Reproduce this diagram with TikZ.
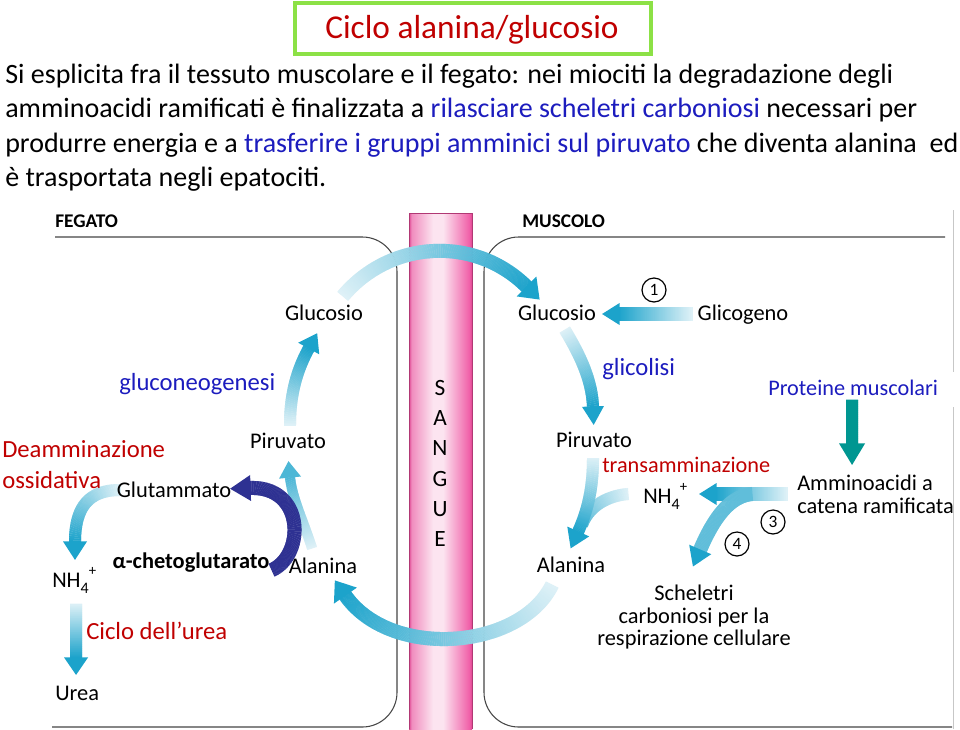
\documentclass[tikz,border=0pt]{standalone}
\usepackage{fontspec}
\setmainfont{Carlito}
\usetikzlibrary{decorations.markings}
\definecolor{ablue}{RGB}{28,163,203}
\definecolor{apale}{RGB}{222,241,247}
\definecolor{navyarc}{RGB}{46,49,146}
\definecolor{tealarr}{RGB}{0,150,145}
\definecolor{redtxt}{RGB}{192,0,0}
\definecolor{bluetxt}{RGB}{28,28,190}
\definecolor{titlegreen}{RGB}{140,225,70}
\definecolor{boxline}{RGB}{70,70,70}
\definecolor{vpinkA}{RGB}{222,70,145}
\definecolor{vpinkB}{RGB}{240,140,190}
\definecolor{vlight}{RGB}{252,228,240}
\definecolor{vpinkC}{RGB}{240,95,168}
\pgfdeclarehorizontalshading{vessel}{100bp}{color(0bp)=(vpinkA); color(25bp)=(vpinkA); color(27bp)=(vpinkB); color(44bp)=(vlight); color(52bp)=(vlight); color(73bp)=(vpinkC); color(75bp)=(vpinkA); color(100bp)=(vpinkA)}
\tikzset{
  garrow/.style n args={5}{
    postaction={decorate,decoration={markings,
      mark=between positions 0 and 1 step 0.5pt with {%
        \pgfmathtruncatemacro\gpp{\pgfkeysvalueof{/pgf/decoration/mark info/distance from start}/\pgfdecoratedpathlength*100}%
        \fill[#5!\gpp!#4] (-0.5,-#1) rectangle (0.5,#1);}}},
    postaction={decorate,decoration={markings,
      mark=at position 0.999 with {\fill[#5] (-0.5,-#2) -- (#3,0) -- (-0.5,#2) -- cycle;}}}},
  gbody/.style n args={3}{postaction={decorate,decoration={markings,
    mark=between positions 0 and 1 step 0.5pt with {%
      \pgfmathtruncatemacro\gpp{\pgfkeysvalueof{/pgf/decoration/mark info/distance from start}/\pgfdecoratedpathlength*100}%
      \fill[#3!\gpp!#2] (-0.5,-#1) rectangle (0.5,#1);}}}},
  lbl/.style={font=\fontsize{16.8}{20}\selectfont, inner sep=0, anchor=base},
  lblw/.style={lbl, anchor=base west},
  boldlbl/.style={font=\bfseries\fontsize{14.5}{16}\selectfont, inner sep=0, anchor=base west},
  ctxt/.style={font=\fontsize{18.5}{22}\selectfont, inner sep=0, anchor=base west},
  stxt/.style={font=\fontsize{16.7}{20}\selectfont, inner sep=0, anchor=base west},
  bodytxt/.style={font=\fontsize{21}{25}\selectfont, inner sep=0, anchor=base west},
  circnum/.style={draw, circle, line width=0.9pt, minimum size=18pt, inner sep=0, font=\fontsize{13}{13}\selectfont},
  sang/.style={font=\fontsize{17.5}{20}\selectfont, inner sep=0, anchor=base},
}
\newcommand{\nhfour}{NH\raisebox{-0.28em}{\fontsize{12}{12}\selectfont 4}\raisebox{0.5em}{\fontsize{11}{11}\selectfont +}}
\begin{document}
\begin{tikzpicture}[x=0.75pt,y=-0.75pt]
\useasboundingbox (0,0) rectangle (960,729);
\fill[white] (0,0) rectangle (960,729);
% title
\draw[titlegreen, line width=3pt] (295,3) rectangle (651,54);
\node[anchor=base, inner sep=0, text=redtxt, font=\fontsize{25}{30}\selectfont] (title) at (472,38) {Ciclo alanina/glucosio};
% body text
\node[bodytxt] (l1) at (5,83) {Si esplicita fra il tessuto muscolare e il fegato: nei miociti la degradazione degli};
\node[bodytxt] (l2) at (5,117.5) {amminoacidi ramificati è finalizzata a \textcolor{bluetxt}{rilasciare scheletri carboniosi} necessari per};
\node[bodytxt] (l3) at (5,152) {produrre energia e a \textcolor{bluetxt}{trasferire i gruppi amminici sul piruvato} che diventa alanina\ \ ed};
\node[bodytxt] (l4) at (5,186.5) {è trasportata negli epatociti.};
% vessel
\shade[shading=vessel] (409,213) rectangle (472,729);
\draw[vpinkA!80!black, line width=0.5pt] (409,213) -- (409,729) (472,213) -- (472,729) (409,213) -- (472,213);
\foreach \l/\yy in {S/395,A/425,N/455,G/486,U/516,E/546}{\node[sang] at (440,\yy) {\l};}
% boxes
\draw[boxline, line width=0.8pt, rounded corners=26pt] (55,237) -- (397,237) -- (397,727) -- (52,727);
\draw[boxline, line width=0.8pt, rounded corners=26pt] (945,237) -- (484,237) -- (484,727) -- (952,727);
\draw[black!22, line width=0.6pt] (953,210) -- (953,372) (953,407) -- (953,729);
\node[boldlbl] (fegato) at (55,227) {FEGATO};
\node[boldlbl] (muscolo) at (522,227) {MUSCOLO};
% coordinates
\coordinate (a1s) at (343,296); \coordinate (a1e) at (527,287);
\coordinate (a2s) at (552,585); \coordinate (a2e) at (345,595);
\coordinate (a3s) at (290,425); \coordinate (a3e) at (309,348);
\coordinate (a4s) at (312,548); \coordinate (a4e) at (290,477);
\coordinate (a5s) at (120,490); \coordinate (a5e) at (75,542);
\coordinate (a6s) at (76,604); \coordinate (a6e) at (76.05,658);
\coordinate (a7s) at (692,314); \coordinate (a7e) at (619,314);
\coordinate (a8s) at (565,330); \coordinate (a8e) at (593,407);
\coordinate (a9b) at (628,494); \coordinate (a9j) at (582,525);
\coordinate (a9s) at (593,458); \coordinate (a9e) at (578,532);
\coordinate (a10s) at (787,494); \coordinate (a10e) at (716,494);
\coordinate (a11s) at (752,494); \coordinate (a11e) at (700,550);
\coordinate (tps) at (852,400); \coordinate (tpe) at (852.05,444);
\coordinate (nvs) at (272,570); \coordinate (nve) at (250,488);
% liver arrows
\path[garrow={7}{14}{18}{apale}{ablue}] (a1s) .. controls (390,240) and (475,235) .. (a1e);
\path[garrow={7}{14}{18}{apale}{ablue}] (a2s) .. controls (520,650) and (390,660) .. (a2e);
\path[garrow={6}{12}{17}{apale}{ablue}] (a3s) .. controls (290,392) and (298,368) .. (a3e);
\path[garrow={5}{11}{16}{apale}{ablue!75!apale}] (a4s) .. controls (303,520) and (292,498) .. (a4e);
\path[garrow={7}{13}{20}{navyarc}{navyarc}] (nvs) .. controls (305,555) and (305,486) .. (nve);
\path[garrow={6}{12}{18}{apale}{ablue}] (a5s) .. controls (88,490) and (75,508) .. (a5e);
\path[garrow={6}{12}{17}{apale}{ablue}] (a6s) -- (a6e);
% muscle arrows
\path[garrow={7}{11}{17}{apale}{ablue}] (a7s) -- (a7e);
\path[garrow={6}{11}{18}{apale}{ablue}] (a8s) .. controls (580,355) and (592,380) .. (a8e);
\path[gbody={6}{apale}{ablue!70!apale}] (a9b) .. controls (605,496) and (588,508) .. (a9j);
\path[garrow={6}{12}{18}{apale}{ablue}] (a9s) .. controls (593,490) and (587,512) .. (a9e);
\path[garrow={7}{11}{17}{apale}{ablue}] (a10s) -- (a10e);
\path[garrow={7}{12}{18}{ablue!65!apale}{ablue}] (a11s) .. controls (728,496) and (712,522) .. (a11e);
\path[garrow={6}{13}{21}{tealarr}{tealarr}] (tps) -- (tpe);
% labels liver
\node[lbl] (gluL) at (324,320) {Glucosio};
\node[lbl] (pirL) at (288,448) {Piruvato};
\node[lbl] (glut) at (174,497) {Glutammato};
\node[lbl, font=\bfseries\fontsize{16.8}{20}\selectfont] (akg) at (191,568) {α-chetoglutarato};
\node[lbl] (alaL) at (323,573) {Alanina};
\node[lblw] (nhL) at (52,587) {\nhfour};
\node[lblw] (urea) at (55,700) {Urea};
% labels muscle
\node[lbl] (gluM) at (557,320) {Glucosio};
\node[lbl] (glic) at (743,320) {Glicogeno};
\node[lbl] (pirM) at (594,447) {Piruvato};
\node[lblw] (nhM) at (643,503) {\nhfour};
\node[lblw] (amm1) at (797,490) {Amminoacidi a};
\node[lblw] (amm2) at (797,513) {catena ramificata};
\node[lbl] (alaM) at (571,572) {Alanina};
\node[lbl] (sch1) at (694,600) {Scheletri};
\node[lbl] (sch2) at (694,623) {carboniosi per la};
\node[lbl] (sch3) at (694,645) {respirazione cellulare};
\node[circnum] (c1) at (654,290) {1};
\node[circnum] (c3) at (773,522) {3};
\node[circnum] (c4) at (737,544) {4};
% coloured labels
\node[ctxt, text=bluetxt] (gng) at (119,390) {gluconeogenesi};
\node[ctxt, text=redtxt] (deam1) at (2,457) {Deamminazione};
\node[ctxt, text=redtxt] (deam2) at (2,488) {ossidativa};
\node[ctxt, text=redtxt] (urc) at (86,639) {Ciclo dell’urea};
\node[ctxt, text=bluetxt] (glyc) at (602,375) {glicolisi};
\node[stxt, text=bluetxt] (prot) at (768,395) {Proteine muscolari};
\node[stxt, text=redtxt] (trans) at (602,472) {transamminazione};
\end{tikzpicture}
\end{document}
